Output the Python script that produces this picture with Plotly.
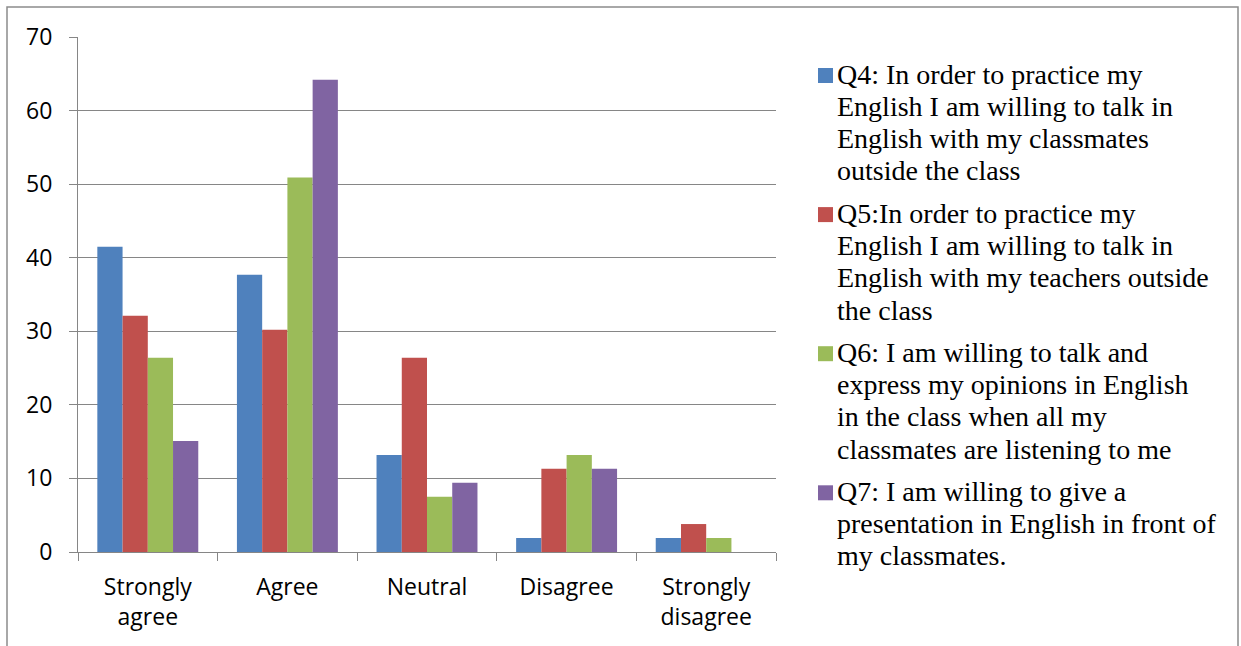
import plotly.graph_objects as go

# Response categories on the x axis
categories = ["Strongly<br>agree", "Agree", "Neutral", "Disagree", "Strongly<br>disagree"]

# Percentage of respondents per category for each question
q4 = [41.5, 37.7, 13.2, 1.9, 1.9]
q5 = [32.1, 30.2, 26.4, 11.3, 3.8]
q6 = [26.4, 50.9, 7.5, 13.2, 1.9]
q7 = [15.1, 64.2, 9.4, 11.3, 0.0]

# Legend text for each question, split into its wrapped lines
q4_lines = ["Q4: In order to practice my", "English I am willing to talk in",
            "English with my classmates", "outside the class"]
q5_lines = ["Q5:In order to practice my", "English I am willing to talk in",
            "English with my teachers outside", "the class"]
q6_lines = ["Q6: I am willing to talk and", "express my opinions in English",
            "in the class when all my", "classmates are listening to me"]
q7_lines = ["Q7: I am willing to give a", "presentation in English in front of",
            "my classmates."]

series_values = [q4, q5, q6, q7]
series_lines = [q4_lines, q5_lines, q6_lines, q7_lines]
colors = ["#4F81BD", "#C0504D", "#9BBB59", "#8064A2"]

y_ticks = [0, 10, 20, 30, 40, 50, 60, 70]

W, H = 1241, 646
L, R, T, B = 78, 1241 - 776, 37, 646 - 552
pw, ph = W - L - R, H - T - B


def px_x(x):
    return (x - L) / pw


def px_y(y):
    return (H - B - y) / ph


fig = go.Figure()
for lines, vals, col in zip(series_lines, series_values, colors):
    fig.add_trace(go.Bar(
        x=categories, y=vals, name=" ".join(lines),
        marker=dict(color=col, line=dict(width=0)),
        showlegend=False,
    ))

# Legend drawn at the right: a colour square and wrapped serif text per series
LEG_FONT = dict(family="Liberation Serif", size=28, color="black")
line_step = 32.3
entry_step = 4 * line_step + 9.9
first_baseline = 83
annotations = []
shapes = []
for k, (lines, col) in enumerate(zip(series_lines, colors)):
    base0 = first_baseline + k * entry_step
    shapes.append(dict(
        type="rect", xref="paper", yref="paper",
        x0=px_x(818), x1=px_x(833), y0=px_y(base0), y1=px_y(base0 - 15),
        fillcolor=col, line=dict(width=0),
    ))
    for j, txt in enumerate(lines):
        base = base0 + j * line_step
        annotations.append(dict(
            text=txt, xref="paper", yref="paper",
            x=px_x(835), y=px_y(base - 9), xanchor="left", yanchor="middle",
            showarrow=False, font=LEG_FONT, align="left",
        ))

# Outer frame around the whole chart
shapes.append(dict(
    type="rect", xref="paper", yref="paper",
    x0=px_x(7), x1=px_x(1238), y0=px_y(700), y1=px_y(7),
    line=dict(color="#8c8c8c", width=1.5), fillcolor="rgba(0,0,0,0)",
    layer="below",
))

fig.update_layout(
    width=W, height=H,
    margin=dict(l=L, r=R, t=T, b=B),
    paper_bgcolor="white", plot_bgcolor="white",
    barmode="group", bargap=0.277, bargroupgap=0,
    font=dict(family="Open Sans", size=23, color="black"),
    showlegend=False,
    xaxis=dict(
        type="category", showgrid=False, tickson="boundaries",
        ticks="outside", ticklen=8, tickcolor="#868686",
        showline=True, linecolor="#868686", linewidth=1,
        tickfont=dict(family="Open Sans", size=23, color="black"),
        ticklabelstandoff=14,
    ),
    yaxis=dict(
        range=[0, 70], tickvals=y_ticks, showgrid=True, gridcolor="#868686",
        gridwidth=1, ticks="outside", ticklen=8, tickcolor="#868686",
        showline=True, linecolor="#868686", linewidth=1,
        tickfont=dict(family="Open Sans", size=23, color="black"),
        ticklabelstandoff=12, zeroline=False,
    ),
    shapes=shapes,
    annotations=annotations,
)

fig.write_html("out.html")
